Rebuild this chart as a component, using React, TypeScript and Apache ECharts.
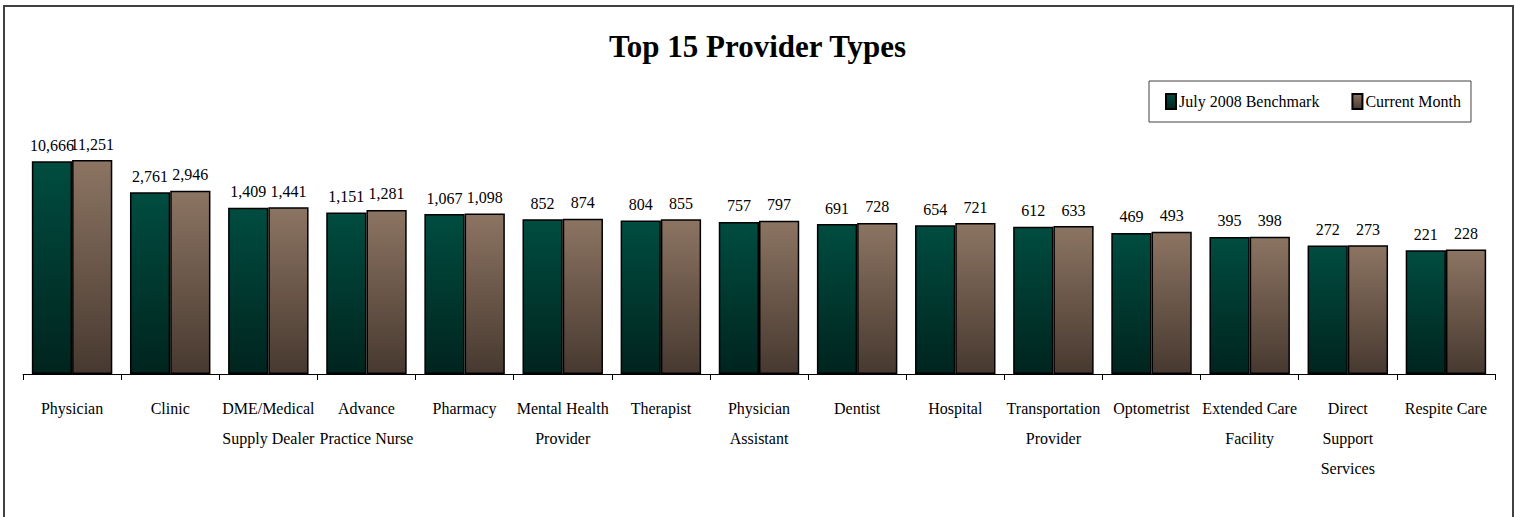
import React, { useEffect, useRef } from "react";
import * as echarts from "echarts";

const categories = [
  "Physician", "Clinic", "DME/Medical Supply Dealer", "Advance Practice Nurse", "Pharmacy",
  "Mental Health Provider", "Therapist", "Physician Assistant", "Dentist", "Hospital",
  "Transportation Provider", "Optometrist", "Extended Care Facility", "Direct Support Services", "Respite Care",
];
const tickLabels = [
  "Physician", "Clinic", "DME/Medical\nSupply Dealer", "Advance\nPractice Nurse", "Pharmacy",
  "Mental Health\nProvider", "Therapist", "Physician\nAssistant", "Dentist", "Hospital",
  "Transportation\nProvider", "Optometrist", "Extended Care\nFacility", "Direct\nSupport\nServices", "Respite Care",
];
const benchmark = [10666, 2761, 1409, 1151, 1067, 852, 804, 757, 691, 654, 612, 469, 395, 272, 221];
const current = [11251, 2946, 1441, 1281, 1098, 874, 855, 797, 728, 721, 633, 493, 398, 273, 228];
const seriesNames = ["July 2008 Benchmark", "Current Month"];

const FONT = "'Liberation Serif', 'DejaVu Serif', serif";

export default function App() {
  const ref = useRef<HTMLDivElement>(null);
  useEffect(() => {
    document.body.style.margin = "0";
    const chart = echarts.init(ref.current!, null, { renderer: "svg" });
    const grad = (top: string, bottom: string) =>
      new echarts.graphic.LinearGradient(0, 0, 0, 1, [
        { offset: 0, color: top },
        { offset: 1, color: bottom },
      ]);
    const fmt = (p: any) => Number(p.value).toLocaleString("en-US");
    chart.setOption({
      animation: false,
      backgroundColor: "#ffffff",
      textStyle: { fontFamily: FONT },
      title: {
        text: "Top 15 Provider Types",
        left: "center",
        top: 26,
        textStyle: { fontFamily: FONT, fontSize: 31, fontWeight: "bold", color: "#000" },
      },
      graphic: [
        {
          type: "rect",
          shape: { x: 4, y: 6, width: 1509, height: 530 },
          style: { fill: "none", stroke: "#404040", lineWidth: 2 },
          silent: true,
          z: -1,
        },
      ],
      legend: {
        data: seriesNames,
        left: 1149,
        top: 81,
        padding: [12, 10, 12, 16],
        itemGap: 32,
        itemWidth: 10,
        itemHeight: 15,
        icon: "rect",
        borderColor: "#404040",
        borderWidth: 1,
        textStyle: { fontFamily: FONT, fontSize: 16, color: "#000", padding: [0, 0, 0, -2] },
      },
      grid: { left: 23, right: 20, top: 110, bottom: 143, containLabel: false },
      xAxis: {
        type: "category",
        data: categories,
        axisLine: { lineStyle: { color: "#000", width: 1 } },
        axisTick: { show: true, length: 6, lineStyle: { color: "#000" } },
        axisLabel: {
          interval: 0,
          margin: 19,
          fontFamily: FONT,
          fontSize: 16,
          lineHeight: 30,
          color: "#000",
          formatter: (_v: string, i: number) => tickLabels[i],
        },
      },
      yAxis: {
        type: "log",
        min: 1,
        max: 100000,
        logBase: 10,
        show: false,
        splitLine: { show: false },
      },
      series: [
        {
          name: seriesNames[0],
          type: "bar",
          data: benchmark,
          barGap: "0%",
          barCategoryGap: "18%",
          itemStyle: { color: grad("#004c40", "#00241e"), borderColor: "#000", borderWidth: 1.5 },
          label: { show: true, position: "top", distance: 8, formatter: fmt, fontFamily: FONT, fontSize: 16, color: "#000" },
        },
        {
          name: seriesNames[1],
          type: "bar",
          data: current,
          barGap: "0%",
          barCategoryGap: "18%",
          itemStyle: { color: grad("#8c7462", "#473930"), borderColor: "#000", borderWidth: 1.5 },
          label: { show: true, position: "top", distance: 8, formatter: fmt, fontFamily: FONT, fontSize: 16, color: "#000" },
        },
      ],
    });
    return () => chart.dispose();
  }, []);
  return <div ref={ref} style={{ width: 1515, height: 517 }} />;
}
